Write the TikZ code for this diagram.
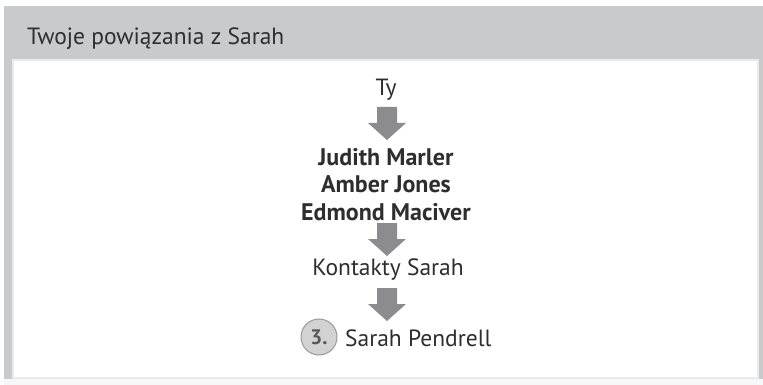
\documentclass[tikz,border=0pt]{standalone}
\usepackage{fontspec}
\setmainfont{PT Sans}
\definecolor{panel}{HTML}{C9CACC}
\definecolor{txt}{HTML}{2E2E2E}
\definecolor{arr}{HTML}{8C8C8E}
\definecolor{circ}{HTML}{D2D2D3}
\definecolor{circd}{HTML}{9A9A9C}
\tikzset{
  lbl/.style={font=\fontsize{23.5}{26}\selectfont, text=txt, inner sep=0pt},
  bl/.style={lbl, font=\fontsize{24}{27}\selectfont\bfseries},
  arrowfill/.style={fill=arr}
}
\newcommand{\mydownarrow}[1]{%
  \fill[arrowfill] ($(#1)+(-10,0)$) -- ++(20,0) -- ++(0,16) -- ++(9,0) -- ++(-19,17) -- ++(-19,-17) -- ++(9,0) -- cycle;}
\usetikzlibrary{calc}
\begin{document}
\begin{tikzpicture}[x=1pt,y=-1pt]
\useasboundingbox (0,0) rectangle (763,385);
\fill[white] (0,0) rectangle (763,385);
\fill[panel] (4,6) rectangle (763,385);
\fill[white!85!panel] (4,379) rectangle (763,385);
\fill[white!60!panel] (12,59) rectangle (759,379);
\fill[white] (14,61) rectangle (757,377);
\node[lbl, anchor=base west] (title) at (27,45) {Twoje powiązania z Sarah};
\node[lbl] (ty) at (386,90) {Ty};
\coordinate (a1) at (387,107);
\coordinate (a2) at (387,223);
\coordinate (a3) at (387,288);
\mydownarrow{a1}
\node[bl] (j) at (386,157) {Judith Marler};
\node[bl] (a) at (386,184) {Amber Jones};
\node[bl] (e) at (386,212) {Edmond Maciver};
\mydownarrow{a2}
\node[lbl] (k) at (388,270) {Kontakty Sarah};
\mydownarrow{a3}
\node[circle, draw=circd, fill=circ, line width=1pt, minimum size=36pt, inner sep=0pt, font=\fontsize{21}{24}\selectfont\bfseries, text=txt!80!white] (c) at (319,337) {3.};
\node[lbl, anchor=west] (s) at (345,338) {Sarah Pendrell};
\end{tikzpicture}
\end{document}
